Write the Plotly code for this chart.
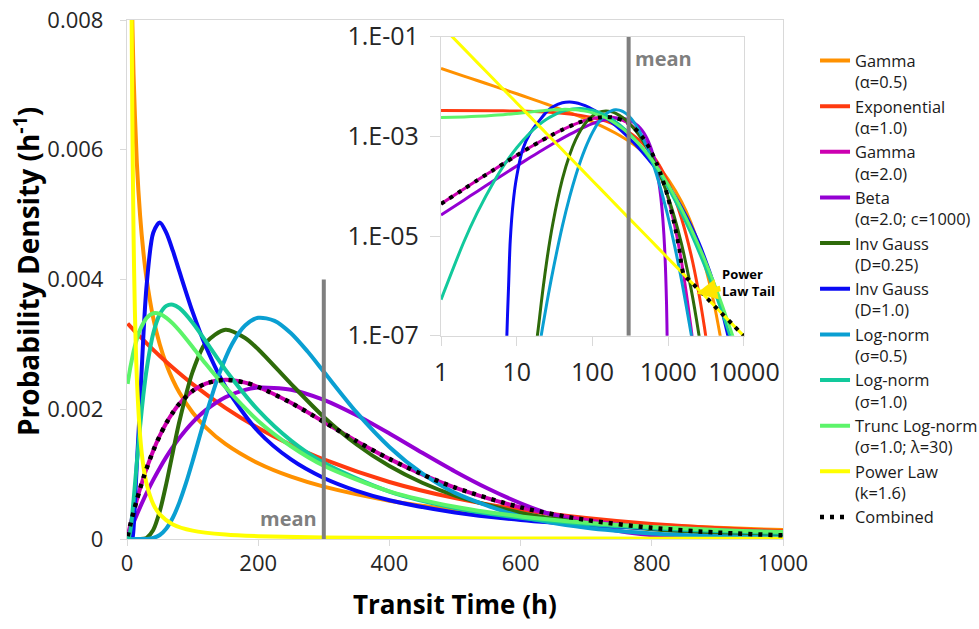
import math
import plotly.graph_objects as go

# ---------------- data ----------------
t_gamma05 = [1, 2, 3, 5, 7, 10, 15, 20, 25, 30, 40, 50, 60, 70, 80, 100, 120, 150, 200, 250, 300,
             400, 500, 600, 700, 800, 1000, 1500, 2000, 3000, 4000, 5000]
p_gamma05 = [0.0230, 0.01623, 0.01323, 0.01022, 0.008605, 0.007163, 0.0058, 0.004981, 0.004419, 0.0040,
             0.003407, 0.002997, 0.00269, 0.00245, 0.002254, 0.00195, 0.001721, 0.001465, 0.001167, 0.00096,
             0.000807, 0.000591, 0.000448, 0.000346, 0.000271, 0.000215, 0.0001376, 4.88e-5, 1.84e-5,
             2.83e-6, 4.64e-7, 7.8e-8]

t_exp = [1, 5, 10, 20, 30, 50, 70, 100, 150, 200, 250, 300, 400, 500, 600, 700, 800, 1000, 1200, 1500,
         2000, 2500, 3000, 3500]
p_exp = [0.003322, 0.003278, 0.003224, 0.003118, 0.003016, 0.002821, 0.002639, 0.002388, 0.002022, 0.001711,
         0.001449, 0.001226, 0.000879, 0.000630, 0.000451, 0.000323, 0.000232, 0.0001189, 6.1e-5, 2.25e-5,
         4.24e-6, 8.0e-7, 1.51e-7, 2.9e-8]

t_gamma2 = [1, 2, 3, 5, 7, 10, 15, 20, 25, 30, 40, 50, 60, 70, 80, 100, 120, 150, 180, 200, 250, 300, 350,
            400, 450, 500, 600, 700, 800, 900, 1000, 1200, 1500, 2000, 2200]
p_gamma2 = [4.42e-5, 8.77e-5, 1.31e-4, 2.15e-4, 2.97e-4, 4.16e-4, 6.03e-4, 7.78e-4, 9.41e-4, 1.092e-3,
            1.362e-3, 1.592e-3, 1.788e-3, 1.951e-3, 2.086e-3, 2.282e-3, 2.396e-3, 2.453e-3, 2.410e-3,
            2.343e-3, 2.099e-3, 1.805e-3, 1.508e-3, 1.235e-3, 9.96e-4, 7.93e-4, 4.88e-4, 2.93e-4, 1.72e-4,
            9.9e-5, 5.66e-5, 1.79e-5, 3.03e-6, 1.44e-7, 4.2e-8]

t_beta = [1, 2, 3, 5, 7, 10, 15, 20, 30, 40, 50, 60, 70, 80, 100, 120, 150, 180, 200, 250, 300, 350, 400,
          450, 500, 550, 600, 650, 700, 750, 800, 850, 900, 950, 970, 985, 1000]
p_beta = [2.64e-5, 5.25e-5, 7.85e-5, 1.30e-4, 1.80e-4, 2.55e-4, 3.75e-4, 4.91e-4, 7.10e-4, 9.11e-4,
          1.096e-3, 1.265e-3, 1.419e-3, 1.559e-3, 1.797e-3, 1.986e-3, 2.186e-3, 2.299e-3, 2.334e-3,
          2.302e-3, 2.145e-3, 1.907e-3, 1.626e-3, 1.329e-3, 1.041e-3, 7.78e-4, 5.51e-4, 3.66e-4, 2.24e-4,
          1.23e-4, 5.79e-5, 2.14e-5, 5.1e-6, 4.3e-7, 6.7e-8, 5e-9, 0]

t_ig025 = [1, 15, 20, 25, 30, 40, 50, 60, 70, 80, 100, 120, 150, 180, 200, 250, 300, 350, 400, 450, 500,
           600, 700, 800, 900, 1000, 1200, 1500, 2000, 2500, 3000]
p_ig025 = [0, 2.4e-9, 2.3e-7, 3.3e-6, 1.8e-5, 1.38e-4, 4.29e-4, 8.57e-4, 1.344e-3, 1.818e-3, 2.576e-3,
           3.023e-3, 3.226e-3, 3.099e-3, 2.925e-3, 2.391e-3, 1.881e-3, 1.457e-3, 1.124e-3, 8.67e-4, 6.70e-4,
           4.03e-4, 2.46e-4, 1.52e-4, 9.5e-5, 6.03e-5, 2.48e-5, 6.9e-6, 8.8e-7, 1.23e-7, 1.8e-8]

t_ig1 = [1, 7, 7.4, 7.8, 8.2, 9, 10, 12, 15, 20, 25, 30, 40, 50, 60, 70, 80, 100, 120, 150, 200, 250, 300,
         350, 400, 500, 600, 700, 800, 900, 1000, 1200, 1500, 2000, 2500, 3000, 4000, 5000, 6000, 7000]
p_ig1 = [0, 1e-9, 1e-7, 1e-6, 8e-6, 5e-5, 1.6e-4, 5.5e-4, 1.15e-3, 2.1e-3, 3.14e-3, 3.92e-3, 4.72e-3,
         4.88e-3, 4.72e-3, 4.44e-3, 4.12e-3, 3.50e-3, 2.97e-3, 2.35e-3, 1.657e-3, 1.226e-3, 9.40e-4,
         7.42e-4, 5.98e-4, 4.09e-4, 2.93e-4, 2.18e-4, 1.66e-4, 1.30e-4, 1.03e-4, 6.7e-5, 3.78e-5, 1.64e-5,
         7.8e-6, 3.9e-6, 1.12e-6, 3.5e-7, 1.15e-7, 4.0e-8]

t_ln05 = [1, 15, 20, 25, 30, 40, 50, 60, 70, 80, 90, 100, 120, 140, 160, 180, 200, 225, 250, 275, 300, 350,
          400, 450, 500, 600, 700, 800, 900, 1000, 1200, 1500, 2000, 2200]
p_ln05 = [0, 3.7e-9, 6.4e-8, 4.6e-7, 2.0e-6, 1.58e-5, 6.16e-5, 1.62e-4, 3.31e-4, 5.69e-4, 8.64e-4,
          1.199e-3, 1.901e-3, 2.530e-3, 3.003e-3, 3.291e-3, 3.409e-3, 3.363e-3, 3.171e-3, 2.893e-3,
          2.578e-3, 1.951e-3, 1.419e-3, 1.010e-3, 7.11e-4, 3.49e-4, 1.72e-4, 8.6e-5, 4.4e-5, 2.33e-5,
          6.9e-6, 1.3e-6, 1.12e-7, 4.6e-8]

t_ln1 = [1, 2, 3, 5, 7, 10, 15, 20, 25, 30, 40, 50, 60, 70, 80, 100, 120, 150, 200, 250, 300, 400, 500,
         600, 700, 800, 900, 1000, 1500, 2000, 3000, 4000, 5000, 7000, 10000]
p_ln1 = [5.3e-7, 7.6e-6, 2.91e-5, 1.25e-4, 2.82e-4, 5.93e-4, 1.181e-3, 1.742e-3, 2.225e-3, 2.619e-3,
         3.166e-3, 3.464e-3, 3.593e-3, 3.611e-3, 3.558e-3, 3.335e-3, 3.049e-3, 2.610e-3, 1.986e-3,
         1.517e-3, 1.174e-3, 7.31e-4, 4.79e-4, 3.26e-4, 2.30e-4, 1.67e-4, 1.24e-4, 9.3e-5, 2.87e-5,
         1.13e-5, 2.62e-6, 8.4e-7, 3.3e-7, 7.3e-8, 1.3e-8]

t_trunc = [1, 2, 3, 5, 7, 10, 15, 20, 25, 30, 40, 50, 60, 70, 80, 100, 120, 150, 200, 250, 300, 400, 500,
           600, 700, 800, 900, 1000, 1500, 2000, 3000, 4000, 5000, 7000, 10000]
p_trunc = [2.39e-3, 2.46e-3, 2.52e-3, 2.64e-3, 2.74e-3, 2.89e-3, 3.08e-3, 3.23e-3, 3.33e-3, 3.41e-3,
           3.48e-3, 3.47e-3, 3.41e-3, 3.32e-3, 3.21e-3, 2.96e-3, 2.70e-3, 2.34e-3, 1.82e-3, 1.43e-3,
           1.13e-3, 7.35e-4, 4.97e-4, 3.48e-4, 2.51e-4, 1.86e-4, 1.40e-4, 1.07e-4, 3.5e-5, 1.43e-5,
           3.5e-6, 1.16e-6, 4.7e-7, 1.07e-7, 2.0e-8]

t_power = [1, 2, 3, 5, 7, 8, 10, 12, 15, 20, 25, 30, 40, 50, 70, 100, 150, 200, 300, 500, 700, 1000, 1500,
           2000, 3000, 5000, 7000, 10000]
p_power = [0.17, 0.0577, 0.0306, 0.0138, 0.00817, 0.00663, 0.00468, 0.00352, 0.00249, 0.00159, 0.00112,
           0.000844, 0.000538, 0.00038, 0.000225, 0.000129, 6.85e-5, 4.37e-5, 2.32e-5, 1.05e-5, 6.2e-6,
           3.55e-6, 1.89e-6, 1.2e-6, 6.4e-7, 2.88e-7, 1.71e-7, 9.8e-8]

t_comb = [1, 2, 3, 5, 7, 10, 15, 20, 25, 30, 40, 50, 60, 70, 80, 100, 120, 150, 180, 200, 250, 300, 350,
          400, 450, 500, 600, 700, 800, 900, 1000, 1200, 1400, 1600, 2000, 3000, 5000, 7000, 10000]
p_comb = [4.42e-5, 8.77e-5, 1.31e-4, 2.15e-4, 2.97e-4, 4.16e-4, 6.03e-4, 7.78e-4, 9.41e-4, 1.092e-3,
          1.362e-3, 1.592e-3, 1.788e-3, 1.951e-3, 2.086e-3, 2.282e-3, 2.396e-3, 2.453e-3, 2.410e-3,
          2.343e-3, 2.099e-3, 1.805e-3, 1.508e-3, 1.235e-3, 9.96e-4, 7.93e-4, 4.88e-4, 2.93e-4, 1.72e-4,
          9.9e-5, 5.66e-5, 1.79e-5, 5.5e-6, 1.72e-6, 1.2e-6, 6.4e-7, 2.88e-7, 1.71e-7, 9.8e-8]

series_names = ["Gamma<br>(α=0.5)", "Exponential<br>(α=1.0)", "Gamma<br>(α=2.0)",
                "Beta<br>(α=2.0; c=1000)", "Inv Gauss<br>(D=0.25)", "Inv Gauss<br>(D=1.0)",
                "Log-norm<br>(σ=0.5)", "Log-norm<br>(σ=1.0)", "Trunc Log-norm<br>(σ=1.0; λ=30)",
                "Power Law<br>(k=1.6)", "Combined"]
series_t = [t_gamma05, t_exp, t_gamma2, t_beta, t_ig025, t_ig1, t_ln05, t_ln1, t_trunc, t_power, t_comb]
series_p = [p_gamma05, p_exp, p_gamma2, p_beta, p_ig025, p_ig1, p_ln05, p_ln1, p_trunc, p_power, p_comb]
series_colors = ["#FF9100", "#FF3A0F", "#CC00B0", "#9400D3", "#2E6B0A", "#0A0AF5",
                 "#0A9FD2", "#12C99C", "#5CF46A", "#FFFF00", "#000000"]

MEAN_TIME = 300
mean_main_y = [0, 0.004]
mean_inset_y = [1e-7, 1e-1]

x_ticks_main = [0, 200, 400, 600, 800, 1000]
y_ticks_main = [0, 0.002, 0.004, 0.006, 0.008]
y_ticktext_main = ["0", "0.002", "0.004", "0.006", "0.008"]
x_ticks_inset = [1, 10, 100, 1000, 10000]
x_ticktext_inset = ["1", "10", "100", "1000", "10000"]
y_ticks_inset = [1e-1, 1e-3, 1e-5, 1e-7]
y_ticktext_inset = ["1.E-01", "1.E-03", "1.E-05", "1.E-07"]

# ---------------- figure ----------------
FONT = "Open Sans"
GRID = "#d9d9d9"
TXT = "#262626"

fig = go.Figure()

for name, t, p, c in zip(series_names, series_t, series_p, series_colors):
    is_comb = name == "Combined"
    main_line = dict(color=c, width=4.5 if is_comb else 4, shape="spline", smoothing=0.8)
    ins_line = dict(color=c, width=4 if is_comb else 3, shape="spline", smoothing=0.8)
    if is_comb:
        main_line["dash"] = "4px,6px"
        ins_line["dash"] = "4px,6px"
    fig.add_trace(go.Scatter(x=t, y=p, mode="lines", name=name, line=main_line,
                             legendgroup=name, xaxis="x", yaxis="y", hoverinfo="skip"))
    fig.add_trace(go.Scatter(x=t, y=p, mode="lines", name=name, line=ins_line,
                             legendgroup=name, showlegend=False, xaxis="x2", yaxis="y2",
                             hoverinfo="skip"))

# mean lines
fig.add_trace(go.Scatter(x=[MEAN_TIME, MEAN_TIME], y=mean_main_y, mode="lines",
                         line=dict(color="#7F7F7F", width=4), showlegend=False,
                         xaxis="x", yaxis="y", hoverinfo="skip"))
fig.add_trace(go.Scatter(x=[MEAN_TIME, MEAN_TIME], y=mean_inset_y, mode="lines",
                         line=dict(color="#7F7F7F", width=4), showlegend=False,
                         xaxis="x2", yaxis="y2", hoverinfo="skip"))

axis_common = dict(showgrid=False, zeroline=False, showline=True, linecolor=GRID, linewidth=1.3,
                   mirror=True, ticks="outside", tickcolor=GRID, tickwidth=1.3, automargin=False)

fig.update_layout(
    width=979, height=629,
    margin=dict(l=127, r=196, t=20, b=90, autoexpand=False),
    paper_bgcolor="white", plot_bgcolor="white",
    font=dict(family=FONT, color=TXT),
    xaxis=dict(range=[0, 1000], tickvals=x_ticks_main, ticklen=6, ticklabelstandoff=-2,
               tickfont=dict(size=22, color=TXT), **axis_common),
    yaxis=dict(range=[0, 0.008], tickvals=y_ticks_main, ticktext=y_ticktext_main, ticklen=6,
               ticklabelstandoff=12, tickfont=dict(size=22, color=TXT), **axis_common),
    xaxis2=dict(type="log", range=[0, 4], domain=[0.4787, 0.9405], anchor="y2",
                tickvals=x_ticks_inset, ticktext=x_ticktext_inset, ticklen=9, ticklabelstandoff=5,
                tickfont=dict(size=25, color=TXT), **axis_common),
    yaxis2=dict(type="log", range=[-7, -1], domain=[0.3917, 0.9678], anchor="x2",
                tickvals=y_ticks_inset, ticktext=y_ticktext_inset, ticklen=10, ticklabelstandoff=6,
                tickfont=dict(size=25, color=TXT), **axis_common),
    legend=dict(xref="container", yref="container", x=0.8325, y=0.931, xanchor="left", yanchor="top",
                valign="top", font=dict(size=16.4, color="#1a1a1a", family=FONT),
                bgcolor="rgba(0,0,0,0)", tracegroupgap=0, maxheight=620),
    showlegend=True,
)

annotations = [
    dict(text="<b>Probability Density (h<sup>-1</sup>)</b>", xref="paper", yref="paper",
         x=-0.1524, y=0.5145, xanchor="center", yanchor="middle", textangle=-90, showarrow=False,
         font=dict(size=28, color="#000000", family=FONT)),
    dict(text="<b>Transit Time (h)</b>", xref="paper", yref="paper", x=0.5, y=-0.1252,
         xanchor="center", yanchor="middle",
         showarrow=False, font=dict(size=26, color="#000000", family=FONT)),
    dict(text="<b>mean</b>", xref="x", yref="y", x=MEAN_TIME, y=0, xanchor="right", yanchor="bottom",
         xshift=-5, yshift=5, showarrow=False, font=dict(size=20, color="#7F7F7F", family=FONT)),
    dict(text="<b>mean</b>", xref="x2", yref="y2 domain", x=math.log10(MEAN_TIME), y=1,
         xanchor="left", yanchor="top", xshift=4, yshift=-6, showarrow=False,
         font=dict(size=20, color="#7F7F7F", family=FONT)),
    dict(text="<b>Power<br>Law Tail</b>", xref="x2 domain", yref="y2 domain", x=0.843, y=0.141,
         ax=52, ay=-11, showarrow=True, arrowhead=2, arrowsize=0.75, arrowwidth=5.5,
         arrowcolor="#FFE600", align="left",
         font=dict(size=13, color="#000000", family=FONT)),
]
fig.update_layout(annotations=annotations)

fig.write_html("out.html")
